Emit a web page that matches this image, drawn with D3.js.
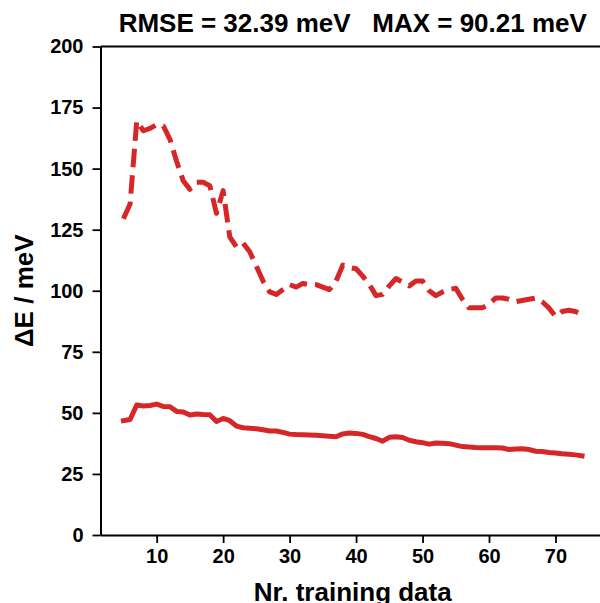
<!DOCTYPE html>
<html>
<head>
<meta charset="utf-8">
<script src="https://cdn.jsdelivr.net/npm/d3@7"></script>
<style>
  body { margin: 0; background: #fff; }
  svg { display: block; font-family: "Liberation Sans", Arial, sans-serif; font-weight: bold; }
</style>
</head>
<body>
<div id="chart"></div>
<script>
// training set sizes
const nTrain = [5, 6, 7, 8, 9, 10, 11, 12, 13, 14, 15, 16, 17, 18, 19, 20, 21, 22, 23, 24,
    25, 26, 27, 28, 29, 30, 31, 32, 33, 34, 35, 36, 37, 38, 39, 40, 41, 42, 43, 44,
    45, 46, 47, 48, 49, 50, 51, 52, 53, 54, 55, 56, 57, 58, 59, 60, 61, 62, 63, 64,
    65, 66, 67, 68, 69, 70, 71, 72, 73, 74];

// RMSE (solid)
const rmse = [46.8, 47.3, 53.2, 52.8, 53.0, 53.6, 52.6, 52.5, 50.6, 50.4,
    49.1, 49.5, 49.3, 49.2, 46.5, 47.7, 46.8, 44.6, 43.9, 43.7,
    43.5, 43.1, 42.6, 42.6, 42.0, 41.3, 41.1, 41.0, 40.9, 40.8,
    40.6, 40.4, 40.2, 41.4, 41.8, 41.6, 41.2, 40.3, 39.5, 38.4,
    40.0, 40.2, 39.9, 38.8, 38.2, 37.8, 37.2, 37.7, 37.6, 37.4,
    36.8, 36.2, 36.0, 35.8, 35.7, 35.7, 35.7, 35.6, 35.0, 35.2,
    35.3, 35.0, 34.3, 34.2, 33.8, 33.6, 33.3, 33.1, 32.8, 32.39];

// MAX error (dashed)
const maxErr = [129.5, 135.5, 169.5, 165.5, 166.5, 168.0, 167.5, 162.0, 153.0, 145.0,
    141.5, 144.4, 144.4, 143.0, 131.7, 141.0, 122.0, 118.0, 119.5, 116.0,
    110.0, 104.0, 99.5, 98.5, 100.5, 102.5, 101.5, 103.0, 102.5, 102.5,
    101.5, 100.5, 104.0, 110.5, 109.5, 109.0, 106.0, 102.5, 98.0, 98.5,
    102.0, 105.0, 103.5, 102.0, 104.0, 104.0, 100.0, 98.0, 99.5, 100.5,
    101.0, 96.5, 93.0, 93.0, 93.0, 94.5, 97.0, 97.0, 96.5, 95.5,
    96.0, 96.5, 97.0, 95.5, 93.0, 89.5, 91.5, 92.0, 91.5, 90.21];

const xTicks = [10, 20, 30, 40, 50, 60, 70];
const yTicks = [0, 25, 50, 75, 100, 125, 150, 175, 200];

const titleText = "RMSE = 32.39 meV\u00a0\u00a0\u00a0MAX = 90.21 meV";
const color = "#d62728";

const W = 600, H = 603;
const svg = d3.select("#chart").append("svg")
    .attr("width", W)
    .attr("height", H);

const x = d3.scaleLinear().domain([1.55, 77.45]).range([100.5, 605]);
const y = d3.scaleLinear().domain([0, 200]).range([535, 46.5]);

// lines
const line = (vals) => d3.line()
    .x((d, i) => x(nTrain[i]))
    .y(d => y(d))(vals);

svg.append("path")
    .attr("d", line(maxErr))
    .attr("fill", "none")
    .attr("stroke", color)
    .attr("stroke-width", 5)
    .attr("stroke-dasharray", "18.5,8")
    .attr("stroke-linejoin", "round")
    .attr("stroke-linecap", "butt");

svg.append("path")
    .attr("d", line(rmse))
    .attr("fill", "none")
    .attr("stroke", color)
    .attr("stroke-width", 5)
    .attr("stroke-linejoin", "round")
    .attr("stroke-linecap", "square");

// axes
const xAxis = svg.append("g")
    .attr("transform", `translate(0,${y(0)})`)
    .call(d3.axisBottom(x).tickValues(xTicks).tickSize(8).tickSizeOuter(0).tickPadding(6));

const yAxis = svg.append("g")
    .attr("transform", `translate(${x(1.55)},0)`)
    .call(d3.axisLeft(y).tickValues(yTicks).tickSize(8).tickSizeOuter(0).tickPadding(9));

[xAxis, yAxis].forEach(g => {
    g.select(".domain").attr("stroke", "#000").attr("stroke-width", 2);
    g.selectAll(".tick line").attr("stroke", "#000").attr("stroke-width", 1.8);
    g.selectAll(".tick text")
        .attr("fill", "#000")
        .style("font-size", "20px")
        .style("font-weight", "bold")
        .style("font-family", "\"Liberation Sans\", Arial, sans-serif");
});

// top spine
svg.append("line")
    .attr("x1", x(1.55)).attr("x2", x(77.45))
    .attr("y1", y(200)).attr("y2", y(200))
    .attr("stroke", "#000")
    .attr("stroke-width", 2);

// title
svg.append("text")
    .attr("x", (x(1.55) + x(77.45)) / 2)
    .attr("y", 32)
    .attr("text-anchor", "middle")
    .style("font-size", "26px")
    .text(titleText);

// axis labels
svg.append("text")
    .attr("x", (x(1.55) + x(77.45)) / 2)
    .attr("y", 601)
    .attr("text-anchor", "middle")
    .style("font-size", "26px")
    .text("Nr. training data");

svg.append("text")
    .attr("transform", `translate(33,${(y(0) + y(200)) / 2}) rotate(-90)`)
    .attr("text-anchor", "middle")
    .style("font-size", "26px")
    .text("ΔE / meV");
</script>
</body>
</html>
